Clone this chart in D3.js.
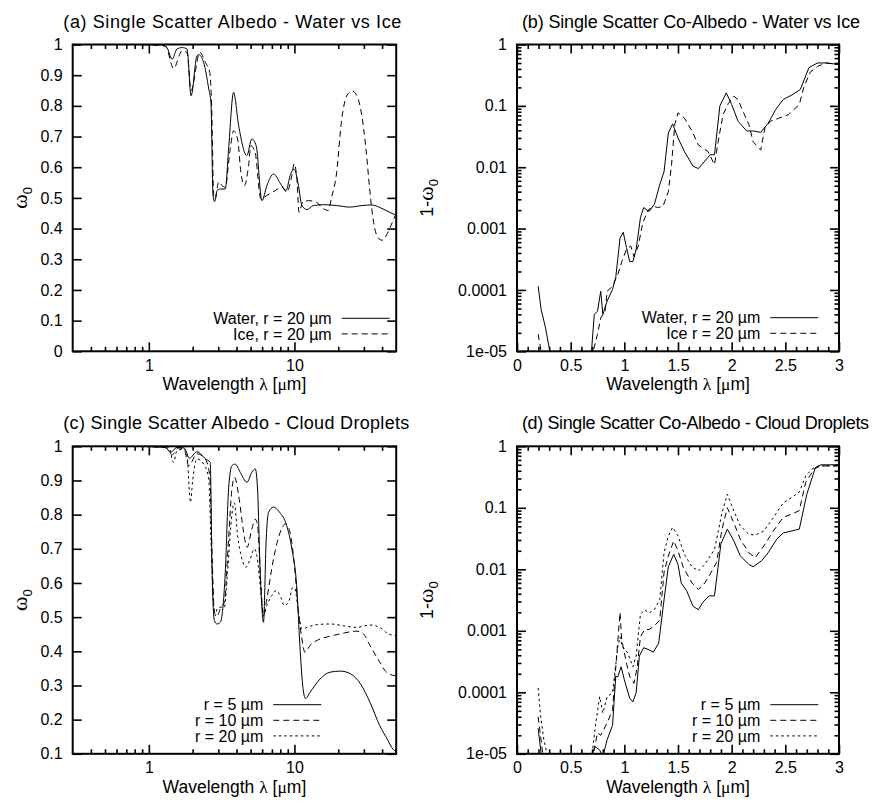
<!DOCTYPE html>
<html lang="en">
<head>
<meta charset="utf-8" />
<title>Single Scatter Albedo</title>
<script src="https://d3js.org/d3.v7.min.js"></script>
<style>
    body { margin: 0; background: #fff; }
    svg text { font-family: "Liberation Sans", Arial, Helvetica, sans-serif; fill: #000; }
    .greek { font-family: "Liberation Serif", "DejaVu Serif", serif; }
</style>
</head>
<body>
<script>
// ---- data: [wavelength um, value] ----
var albedoWater = [
    [0.3, 0.9999], [0.8, 0.9998], [1.2, 0.999], [1.33, 0.99], [1.445, 0.952], [1.56, 0.985],
    [1.7, 0.99], [1.83, 0.985], [1.95, 0.833], [2.14, 0.963], [2.2, 0.967], [2.38, 0.941],
    [2.58, 0.855], [2.67, 0.811], [2.76, 0.508], [2.83, 0.488], [2.94, 0.524], [3.1, 0.529],
    [3.35, 0.529], [3.53, 0.659], [3.82, 0.844], [4.14, 0.735], [4.71, 0.638], [5.1, 0.692],
    [5.46, 0.67], [5.98, 0.491], [6.47, 0.54], [7.18, 0.578], [8.18, 0.54], [8.76, 0.524],
    [9.34, 0.573], [9.95, 0.594], [10.66, 0.54], [11.26, 0.475], [12.2, 0.462], [13.5, 0.475],
    [15.8, 0.478], [19.5, 0.475], [24, 0.47], [29, 0.475], [33.8, 0.477], [40.6, 0.464],
    [47.6, 0.448], [50, 0.445]
];
var albedoIce = [
    [0.3, 0.9999], [0.8, 0.9998], [1.3, 0.995], [1.48, 0.922], [1.69, 0.979], [1.83, 0.974],
    [1.95, 0.85], [2.24, 0.974], [2.45, 0.941], [2.62, 0.909], [2.7, 0.8], [2.79, 0.508],
    [2.86, 0.497], [3.02, 0.553], [3.18, 0.54], [3.35, 0.535], [3.62, 0.659], [3.82, 0.719],
    [4.07, 0.692], [4.29, 0.583], [4.54, 0.54], [4.84, 0.605], [5.02, 0.67], [5.37, 0.648],
    [5.88, 0.497], [6.47, 0.508], [7.4, 0.524], [8.18, 0.535], [8.85, 0.519], [9.6, 0.573],
    [9.95, 0.611], [10.4, 0.562], [10.76, 0.453], [11.4, 0.486], [12.5, 0.491], [14.2, 0.486],
    [15.3, 0.47], [17.1, 0.459], [17.9, 0.497], [19.5, 0.583], [21, 0.746], [23, 0.835],
    [25, 0.848], [27, 0.83], [29, 0.77], [31, 0.66], [33, 0.52], [35, 0.42], [37.5, 0.37],
    [40, 0.362], [43, 0.38], [46, 0.41], [50, 0.45]
];
var coAlbedoWater = [
    [0.197, 1.15e-4], [0.225, 4.8e-5], [0.266, 2.4e-5], [0.306, 1e-5], [0.4, 2e-6], [0.6, 2e-6],
    [0.694, 1e-5], [0.72, 4e-5], [0.75, 4.5e-5], [0.78, 9.5e-5], [0.8, 4e-5], [0.84, 6.6e-5],
    [0.89, 1.02e-4], [0.92, 1.6e-4], [0.96, 7e-4], [0.99, 8.7e-4], [1.02, 4.9e-4], [1.05, 2.9e-4],
    [1.08, 2.9e-4], [1.11, 4.6e-4], [1.15, 1.5e-3], [1.18, 2.2e-3], [1.23, 1.9e-3], [1.28, 2.5e-3],
    [1.33, 5.2e-3], [1.37, 8.5e-3], [1.41, 0.036], [1.45, 0.051], [1.5, 0.03], [1.56, 0.018],
    [1.64, 0.0104], [1.69, 0.0095], [1.75, 0.0126], [1.8, 0.016], [1.84, 0.016], [1.89, 0.1],
    [1.95, 0.163], [2.0, 0.105], [2.06, 0.056], [2.14, 0.039], [2.2, 0.039], [2.27, 0.037],
    [2.34, 0.052], [2.41, 0.087], [2.48, 0.127], [2.56, 0.15], [2.64, 0.185], [2.72, 0.42],
    [2.8, 0.5], [2.89, 0.5], [3.0, 0.47]
];
var coAlbedoIce = [
    [0.197, 1.9e-5], [0.225, 1e-5], [0.3, 2e-6], [0.6, 2e-6], [0.71, 1e-5], [0.75, 1.9e-5],
    [0.78, 3.5e-5], [0.82, 4.5e-5], [0.84, 9.5e-5], [0.89, 1.15e-4], [0.94, 1.8e-4], [0.98, 3e-4],
    [1.02, 4.6e-4], [1.06, 5.2e-4], [1.09, 3.5e-4], [1.13, 5.2e-4], [1.17, 1.2e-3], [1.22, 2e-3],
    [1.28, 2.3e-3], [1.31, 2.2e-3], [1.36, 2.3e-3], [1.41, 4e-3], [1.44, 0.011], [1.47, 0.05],
    [1.5, 0.077], [1.56, 0.063], [1.63, 0.039], [1.69, 0.023], [1.78, 0.018], [1.84, 0.011],
    [1.88, 0.03], [1.92, 0.072], [1.97, 0.11], [2.02, 0.144], [2.06, 0.126], [2.11, 0.078],
    [2.16, 0.05], [2.2, 0.026], [2.27, 0.019], [2.31, 0.044], [2.36, 0.056], [2.44, 0.063],
    [2.53, 0.072], [2.63, 0.105], [2.67, 0.195], [2.73, 0.35], [2.8, 0.44], [2.88, 0.5], [3.0, 0.47]
];
var albedoR5 = [
    [0.3, 0.9999], [0.8, 0.9998], [1.3, 0.997], [1.41, 0.982], [1.56, 0.997], [1.75, 0.995],
    [1.9, 0.965], [2.14, 0.984], [2.45, 0.963], [2.64, 0.953], [2.72, 0.631], [2.82, 0.49],
    [2.94, 0.48], [3.1, 0.485], [3.35, 0.631], [3.53, 0.875], [3.72, 0.943], [3.92, 0.948],
    [4.24, 0.924], [4.72, 0.895], [5.1, 0.924], [5.38, 0.934], [5.58, 0.875], [5.82, 0.631],
    [6.13, 0.485], [6.4, 0.729], [6.64, 0.807], [7.18, 0.822], [7.9, 0.807], [8.85, 0.768],
    [9.6, 0.7], [10.4, 0.582], [10.9, 0.417], [11.4, 0.3], [11.9, 0.262], [12.8, 0.28],
    [15, 0.319], [17.6, 0.339], [20.7, 0.342], [24.3, 0.334], [28.5, 0.304], [33, 0.251],
    [38.6, 0.182], [43.9, 0.139], [46.5, 0.119], [50, 0.105]
];
var albedoR10 = [
    [0.3, 0.9999], [0.8, 0.9998], [1.3, 0.996], [1.445, 0.975], [1.6, 0.995], [1.75, 0.99],
    [1.88, 0.943], [2.14, 0.978], [2.44, 0.963], [2.62, 0.914], [2.72, 0.68], [2.82, 0.514],
    [2.94, 0.504], [3.13, 0.529], [3.3, 0.543], [3.53, 0.729], [3.72, 0.875], [3.88, 0.909],
    [4.14, 0.856], [4.48, 0.748], [4.72, 0.704], [5.1, 0.758], [5.38, 0.787], [5.58, 0.768],
    [5.91, 0.582], [6.13, 0.504], [6.46, 0.553], [7.18, 0.67], [7.98, 0.748], [8.65, 0.773],
    [9.1, 0.763], [9.59, 0.719], [10.1, 0.631], [10.66, 0.514], [11.26, 0.436], [11.8, 0.397],
    [12.8, 0.417], [15, 0.436], [17.6, 0.444], [21.6, 0.453], [26.8, 0.459], [29.8, 0.451],
    [33, 0.417], [38.6, 0.368], [42.9, 0.339], [49, 0.329], [50, 0.329]
];
var albedoR20 = [
    [0.3, 0.9999], [0.8, 0.9998], [1.3, 0.998], [1.37, 0.997], [1.48, 0.953], [1.56, 0.987],
    [1.74, 0.992], [1.83, 0.973], [1.93, 0.836], [2.0, 0.9], [2.14, 0.963], [2.38, 0.948],
    [2.58, 0.904], [2.67, 0.729], [2.79, 0.534], [2.86, 0.504], [2.94, 0.524], [3.1, 0.529],
    [3.3, 0.529], [3.47, 0.631], [3.72, 0.8], [3.86, 0.835], [4.07, 0.739], [4.36, 0.67],
    [4.64, 0.646], [4.97, 0.67], [5.3, 0.7], [5.52, 0.68], [5.91, 0.563], [6.13, 0.504],
    [6.46, 0.534], [6.99, 0.563], [7.5, 0.578], [8.07, 0.558], [8.5, 0.534], [9.1, 0.543],
    [9.75, 0.587], [10.1, 0.582], [10.66, 0.514], [11.26, 0.465], [12.2, 0.47], [14.2, 0.478],
    [17.6, 0.48], [21.6, 0.475], [26.8, 0.47], [33, 0.477], [38.6, 0.47], [44, 0.451],
    [49, 0.446], [50, 0.445]
];
var coAlbedoR5 = [
    [0.197, 2.6e-5], [0.225, 1e-5], [0.3, 2e-6], [0.6, 2e-6], [0.7, 1e-5], [0.73, 1.3e-5],
    [0.77, 1.15e-5], [0.8, 9e-6], [0.84, 1.7e-5], [0.89, 2.9e-5], [0.92, 1.8e-4], [0.94, 1.8e-4],
    [0.97, 2.6e-4], [1.0, 1.6e-4], [1.05, 8e-5], [1.08, 7e-5], [1.11, 9.8e-5], [1.14, 3.9e-4],
    [1.18, 5.3e-4], [1.22, 5e-4], [1.27, 4.5e-4], [1.32, 6.3e-4], [1.37, 3.2e-3], [1.41, 0.011],
    [1.46, 0.0175], [1.5, 0.012], [1.53, 0.006], [1.58, 0.0045], [1.64, 0.0025], [1.69, 0.0022],
    [1.73, 0.0029], [1.79, 0.0037], [1.84, 0.0037], [1.9, 0.026], [1.96, 0.045], [2.02, 0.029],
    [2.08, 0.0166], [2.16, 0.012], [2.2, 0.011], [2.28, 0.0138], [2.34, 0.0186], [2.42, 0.031],
    [2.48, 0.039], [2.56, 0.042], [2.63, 0.045], [2.7, 0.166], [2.78, 0.45], [2.83, 0.5], [3.0, 0.5]
];
var coAlbedoR10 = [
    [0.197, 4e-5], [0.24, 1e-5], [0.3, 2e-6], [0.6, 2e-6], [0.71, 1e-5], [0.75, 2.2e-5],
    [0.78, 2e-5], [0.81, 2.5e-5], [0.85, 3.5e-5], [0.89, 5.2e-5], [0.94, 7.2e-4], [0.96, 2e-3],
    [0.975, 7.2e-4], [1.02, 3e-4], [1.05, 1.8e-4], [1.09, 1.4e-4], [1.12, 2.6e-4], [1.15, 8e-4],
    [1.19, 1.05e-3], [1.23, 1.05e-3], [1.28, 1.2e-3], [1.33, 1.5e-3], [1.37, 8.9e-3], [1.41, 0.0165],
    [1.46, 0.029], [1.5, 0.02], [1.55, 0.0107], [1.63, 0.006], [1.69, 0.0047], [1.75, 0.006],
    [1.81, 0.009], [1.86, 0.013], [1.91, 0.045], [1.96, 0.1], [2.02, 0.057], [2.08, 0.031],
    [2.16, 0.0186], [2.22, 0.0155], [2.3, 0.024], [2.38, 0.04], [2.48, 0.07], [2.56, 0.079],
    [2.63, 0.09], [2.69, 0.26], [2.77, 0.43], [2.83, 0.48], [3.0, 0.48]
];
var coAlbedoR20 = [
    [0.197, 1.18e-4], [0.22, 4.1e-5], [0.25, 1.7e-5], [0.28, 1e-5], [0.35, 2e-6], [0.6, 2e-6],
    [0.7, 1e-5], [0.73, 2.8e-5], [0.77, 8.5e-5], [0.8, 4.6e-5], [0.84, 8.5e-5], [0.89, 9.8e-5],
    [0.94, 5.6e-4], [0.96, 8e-4], [0.98, 5.6e-4], [1.03, 4.4e-4], [1.08, 2.6e-4], [1.11, 3.9e-4],
    [1.15, 1.85e-3], [1.19, 2.2e-3], [1.23, 1.95e-3], [1.28, 2.2e-3], [1.33, 3.2e-3], [1.37, 0.0186],
    [1.41, 0.035], [1.45, 0.048], [1.5, 0.035], [1.56, 0.0174], [1.63, 0.011], [1.69, 0.0094],
    [1.75, 0.012], [1.8, 0.0165], [1.84, 0.021], [1.91, 0.083], [1.96, 0.166], [2.02, 0.089],
    [2.08, 0.051], [2.16, 0.037], [2.22, 0.036], [2.3, 0.042], [2.38, 0.066], [2.48, 0.12],
    [2.56, 0.148], [2.63, 0.18], [2.69, 0.33], [2.75, 0.43], [2.81, 0.48], [3.0, 0.48]
];

// ---- ticks ----
var logXMajor = [1, 10];
var logXMajorLabels = ["1", "10"];
var logXMinor = [0.4, 0.5, 0.6, 0.7, 0.8, 0.9, 2, 3, 4, 5, 6, 7, 8, 9, 20, 30, 40];
var linXMajor = [0, 0.5, 1, 1.5, 2, 2.5, 3];
var linXMajorLabels = ["0", "0.5", "1", "1.5", "2", "2.5", "3"];
var linXMinor = [0.1, 0.2, 0.3, 0.4, 0.6, 0.7, 0.8, 0.9, 1.1, 1.2, 1.3, 1.4, 1.6, 1.7, 1.8, 1.9,
    2.1, 2.2, 2.3, 2.4, 2.6, 2.7, 2.8, 2.9];
var albedoYTicksA = [0, 0.1, 0.2, 0.3, 0.4, 0.5, 0.6, 0.7, 0.8, 0.9, 1];
var albedoYLabelsA = ["0", "0.1", "0.2", "0.3", "0.4", "0.5", "0.6", "0.7", "0.8", "0.9", "1"];
var albedoYTicksC = [0.1, 0.2, 0.3, 0.4, 0.5, 0.6, 0.7, 0.8, 0.9, 1];
var albedoYLabelsC = ["0.1", "0.2", "0.3", "0.4", "0.5", "0.6", "0.7", "0.8", "0.9", "1"];
var logYMajor = [1e-5, 1e-4, 1e-3, 1e-2, 1e-1, 1];
var logYMajorLabels = ["1e-05", "0.0001", "0.001", "0.01", "0.1", "1"];
var logYMinor = [];
logYMajor.slice(0, 5).forEach(function(d) {
    for (var k = 2; k <= 9; k++) logYMinor.push(d * k);
});

var legendWaterIceA = ["Water, r = 20 \u00b5m", "Ice, r = 20 \u00b5m"];
var legendWaterIceB = ["Water, r = 20 \u00b5m", "Ice r = 20 \u00b5m"];
var legendDroplets = ["r = 5 \u00b5m", "r = 10 \u00b5m", "r = 20 \u00b5m"];

// ---- drawing ----
var w = 874;
var h = 804;
var dashes = [null, "6,4", "2.5,3"];

var svg = d3.select("body")
    .append("svg")
    .attr("width", w)
    .attr("height", h);

function axisLayer(g, gen, values, size, labels, pad, transform) {
    var ax = gen.tickValues(values)
        .tickSize(-size)
        .tickPadding(pad)
        .tickFormat(labels ? function(d, i) { return labels[i]; } : "");
    var a = g.append("g").attr("transform", transform).call(ax);
    a.select(".domain").remove();
    a.selectAll("line").attr("stroke", "#000").attr("stroke-width", 1.6);
    a.attr("font-family", null).attr("font-size", 16);
    a.selectAll("text").attr("fill", "#000");
    return a;
}

function drawPanel(p) {
    var x0 = p.x, y0 = p.y, pw = p.w, ph = p.h;
    var sx = (p.logX ? d3.scaleLog() : d3.scaleLinear()).domain(p.xDomain).range([x0, x0 + pw]);
    var sy = (p.logY ? d3.scaleLog() : d3.scaleLinear()).domain(p.yDomain).range([y0 + ph, y0]);
    var g = svg.append("g");

    var clipId = "clip-" + p.id;
    svg.append("clipPath").attr("id", clipId)
        .append("rect").attr("x", x0).attr("y", y0).attr("width", pw).attr("height", ph);

    // curves
    var line = d3.line()
        .x(function(d) { return sx(d[0]); })
        .y(function(d) { return sy(d[1]); })
        .curve(p.logX ? d3.curveMonotoneX : d3.curveLinear);
    p.series.forEach(function(s, i) {
        g.append("path")
            .attr("clip-path", "url(#" + clipId + ")")
            .attr("d", line(s))
            .attr("fill", "none")
            .attr("stroke", "#000")
            .attr("stroke-width", 1)
            .attr("stroke-dasharray", dashes[i]);
    });

    // ticks (inside, mirrored)
    var xMaj = p.logX ? logXMajor : linXMajor;
    var xMajL = p.logX ? logXMajorLabels : linXMajorLabels;
    var xMin = p.logX ? logXMinor : linXMinor;
    axisLayer(g, d3.axisBottom(sx), xMaj, 9, xMajL, 8, "translate(0," + (y0 + ph) + ")");
    axisLayer(g, d3.axisTop(sx), xMaj, 9, null, 0, "translate(0," + y0 + ")");
    axisLayer(g, d3.axisBottom(sx), xMin, 4.5, null, 0, "translate(0," + (y0 + ph) + ")");
    axisLayer(g, d3.axisTop(sx), xMin, 4.5, null, 0, "translate(0," + y0 + ")");
    axisLayer(g, d3.axisLeft(sy), p.yTicks, 9, p.yLabels, 10, "translate(" + x0 + ",0)");
    axisLayer(g, d3.axisRight(sy), p.yTicks, 9, null, 0, "translate(" + (x0 + pw) + ",0)");
    if (p.logY) {
        axisLayer(g, d3.axisLeft(sy), logYMinor, 4.5, null, 0, "translate(" + x0 + ",0)");
        axisLayer(g, d3.axisRight(sy), logYMinor, 4.5, null, 0, "translate(" + (x0 + pw) + ",0)");
    }

    // frame
    g.append("rect")
        .attr("x", x0).attr("y", y0).attr("width", pw).attr("height", ph)
        .attr("fill", "none").attr("stroke", "#000").attr("stroke-width", 2);

    // title
    g.append("text")
        .attr("x", p.titleX).attr("y", y0 - 17)
        .attr("font-size", 18)
        .attr("textLength", p.titleW)
        .attr("lengthAdjust", "spacing")
        .text(p.title);

    // x label
    var xl = g.append("text")
        .attr("x", x0 + pw / 2).attr("y", y0 + ph + 39)
        .attr("text-anchor", "middle")
        .attr("font-size", 17.5);
    xl.append("tspan").text("Wavelength ");
    xl.append("tspan").attr("class", "greek").text("\u03bb");
    xl.append("tspan").text(" [");
    xl.append("tspan").attr("class", "greek").text("\u03bc");
    xl.append("tspan").text("m]");

    // y label
    var yl = g.append("text")
        .attr("transform", "translate(" + p.yLabelX + "," + (y0 + ph / 2) + ") rotate(-90)")
        .attr("text-anchor", "middle")
        .attr("font-size", 18);
    if (p.logY) yl.append("tspan").text("1-");
    yl.append("tspan").attr("class", "greek").attr("font-size", 22).text("\u03c9");
    yl.append("tspan").attr("font-size", 13).attr("dy", "0.4em").text("0");

    // legend
    p.legend.forEach(function(lab, i) {
        var ry = p.legendY + i * 15.6;
        g.append("text")
            .attr("x", p.legendX).attr("y", ry)
            .attr("dy", "0.35em")
            .attr("text-anchor", "end")
            .attr("font-size", 16)
            .text(lab);
        g.append("line")
            .attr("x1", p.legendX + 10).attr("x2", p.legendX + 58)
            .attr("y1", ry).attr("y2", ry)
            .attr("stroke", "#000").attr("stroke-width", 1)
            .attr("stroke-dasharray", dashes[i]);
    });
}

drawPanel({
    id: "a", x: 72.7, y: 44.5, w: 323.5, h: 306.8,
    logX: true, xDomain: [0.3, 50], logY: false, yDomain: [0, 1],
    yTicks: albedoYTicksA, yLabels: albedoYLabelsA,
    series: [albedoWater, albedoIce],
    title: "(a) Single Scatter Albedo - Water vs Ice", titleX: 63.3, titleW: 338,
    yLabelX: 27, legend: legendWaterIceA, legendX: 331.7, legendY: 318.3
});
drawPanel({
    id: "b", x: 517, y: 44.5, w: 322, h: 306.8,
    logX: false, xDomain: [0, 3], logY: true, yDomain: [1e-5, 1],
    yTicks: logYMajor, yLabels: logYMajorLabels,
    series: [coAlbedoWater, coAlbedoIce],
    title: "(b) Single Scatter Co-Albedo - Water vs Ice", titleX: 522, titleW: 338,
    yLabelX: 433, legend: legendWaterIceB, legendX: 760.3, legendY: 317.7
});
drawPanel({
    id: "c", x: 72.7, y: 446.3, w: 323.5, h: 307.5,
    logX: true, xDomain: [0.3, 50], logY: false, yDomain: [0.1, 1],
    yTicks: albedoYTicksC, yLabels: albedoYLabelsC,
    series: [albedoR5, albedoR10, albedoR20],
    title: "(c) Single Scatter Albedo - Cloud Droplets", titleX: 63.3, titleW: 346,
    yLabelX: 27, legend: legendDroplets, legendX: 263.3, legendY: 704.7
});
drawPanel({
    id: "d", x: 517, y: 446.3, w: 322, h: 307.5,
    logX: false, xDomain: [0, 3], logY: true, yDomain: [1e-5, 1],
    yTicks: logYMajor, yLabels: logYMajorLabels,
    series: [coAlbedoR5, coAlbedoR10, coAlbedoR20],
    title: "(d) Single Scatter Co-Albedo - Cloud Droplets", titleX: 522, titleW: 347,
    yLabelX: 433, legend: legendDroplets, legendX: 760.3, legendY: 704.7
});
</script>
</body>
</html>
